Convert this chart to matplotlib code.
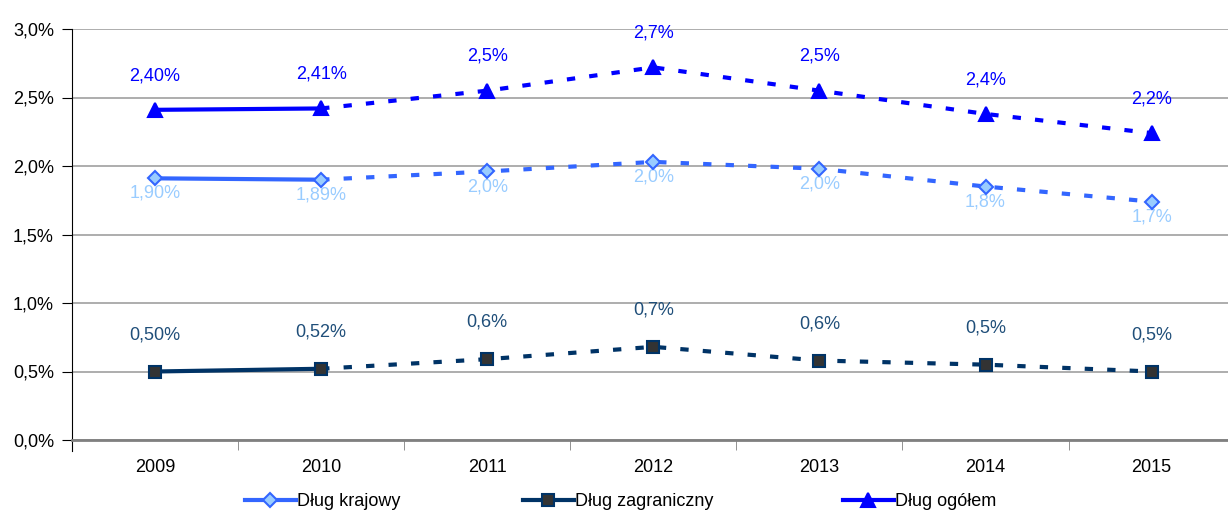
import numpy as np
import matplotlib.pyplot as plt
from matplotlib.lines import Line2D

years = ['2009', '2010', '2011', '2012', '2013', '2014', '2015']
krajowy = [1.91, 1.90, 1.96, 2.03, 1.98, 1.85, 1.74]
zagraniczny = [0.50, 0.52, 0.59, 0.68, 0.58, 0.55, 0.50]
ogolem = [2.41, 2.42, 2.55, 2.72, 2.55, 2.38, 2.24]
lab_krajowy = ['1,90%', '1,89%', '2,0%', '2,0%', '2,0%', '1,8%', '1,7%']
lab_zagraniczny = ['0,50%', '0,52%', '0,6%', '0,7%', '0,6%', '0,5%', '0,5%']
lab_ogolem = ['2,40%', '2,41%', '2,5%', '2,7%', '2,5%', '2,4%', '2,2%']

plt.rcParams['font.family'] = ['Liberation Sans Narrow', 'Liberation Sans', 'DejaVu Sans']

fig = plt.figure(figsize=(12.28, 5.13), dpi=100)
ax = fig.add_axes([72/1228, 73/513, 1 - 72/1228, 411/513])

x = np.arange(len(years))

# values, labels, line colour, marker, face, edge, size, name, text colour, label offset
series = [
    (krajowy, lab_krajowy, '#3366FF', 'D', '#99CCFF', '#3366FF', 7, 'Dług krajowy', '#99CCFF', -0.11),
    (zagraniczny, lab_zagraniczny, '#003366', 's', '#333333', '#003366', 8.5, 'Dług zagraniczny', '#1F4E79', 0.27),
    (ogolem, lab_ogolem, '#0000FF', '^', '#0000FF', '#0000FF', 10, 'Dług ogółem', '#0000FF', 0.25),
]

handles = []
for vals, labs, col, mk, mfc, mec, ms, name, tcol, off in series:
    vals = np.array(vals)
    ax.plot(x[:2], vals[:2], color=col, lw=3, zorder=3)
    ax.plot(x[1:], vals[1:], color=col, lw=3, ls=(0, (2, 3.4)), zorder=3)
    ax.plot(x, vals, ls='none', marker=mk, ms=ms, mfc=mfc, mec=mec, mew=1.5, zorder=4)
    handles.append(Line2D([], [], color=col, lw=3, marker=mk, ms=ms, mfc=mfc, mec=mec, mew=1.5, label=name))
    for xi, v, t in zip(x, vals, labs):
        ax.text(xi, v + off, t, ha='center', va='center', color=tcol, fontsize=13)

ax.set_ylim(0, 3.0)
ax.set_xlim(-0.5, 6.46)
yt = np.arange(0, 3.01, 0.5)
ax.set_yticks(yt)
ax.set_yticklabels([f'{v:.1f}%'.replace('.', ',') for v in yt], fontsize=13)
ax.set_xticks(x)
ax.set_xticklabels(years, fontsize=13)
ax.set_xticks(np.arange(0.5, 6.5, 1.0), minor=True)
ax.tick_params(axis='x', which='major', length=0, pad=14)
ax.tick_params(axis='x', which='minor', length=7, color='#808080')
ax.tick_params(axis='y', length=7, pad=6)
ax.yaxis.grid(True, color='#A0A0A0', lw=1.2)
ax.set_axisbelow(True)
for s in ['top', 'right']:
    ax.spines[s].set_visible(False)
ax.spines['bottom'].set_color('#808080')
ax.spines['bottom'].set_linewidth(2)
ax.spines['left'].set_bounds(-0.08, 3.0)

for h, xpos in zip(handles, [245, 523, 843]):
    fig.legend(handles=[h], loc='center left', bbox_to_anchor=(xpos/1228, 11/513), frameon=False,
               fontsize=13, handlelength=2.8, handletextpad=0.1, borderpad=0, borderaxespad=0)

fig.savefig('out.png', dpi=100)
